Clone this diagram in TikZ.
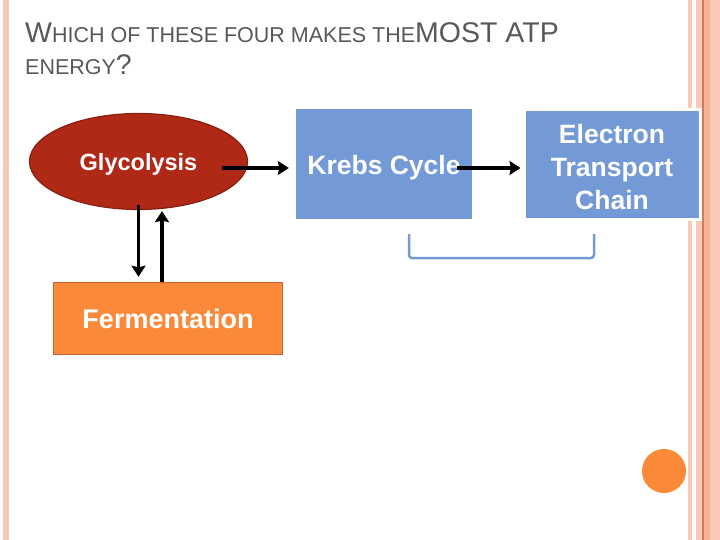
\documentclass[tikz,border=0pt]{standalone}
\usepackage{fontspec}
\setmainfont{Liberation Sans}
\usetikzlibrary{shapes.geometric, arrows.meta}

\definecolor{glycored}{RGB}{176,41,22}
\definecolor{glycoline}{RGB}{135,30,15}
\definecolor{krebsblue}{RGB}{115,153,214}
\definecolor{fermorange}{RGB}{250,137,58}
\definecolor{fermline}{RGB}{200,100,45}
\definecolor{stripe}{RGB}{249,201,184}
\definecolor{stripedark}{RGB}{246,180,150}
\definecolor{stripeline}{RGB}{205,125,85}
\definecolor{titlegray}{RGB}{88,88,88}

\begin{document}
\begin{tikzpicture}[x=1pt, y=-1pt,
      every node/.style={font=\bfseries, text=white, inner sep=0pt},
      stage/.style={rectangle, fill=krebsblue, minimum width=176pt, minimum height=110pt, align=center,
                    font=\fontsize{26.5}{33}\selectfont\bfseries},
      process/.style={ellipse, fill=glycored, draw=glycoline, line width=1.2pt, minimum width=218pt, minimum height=96pt,
                    text depth=0pt, font=\fontsize{23.5}{28}\selectfont\bfseries},
      side/.style={rectangle, fill=fermorange, draw=fermline, line width=1.5pt, minimum width=229pt, minimum height=72pt,
                    font=\fontsize{27}{32}\selectfont\bfseries},
      flow/.style={line width=3.5pt, -{Stealth[length=11pt, width=14pt, inset=1.5pt]}},
      bracket/.style={draw=krebsblue, line width=2.5pt, rounded corners=3pt},
      title/.style={text=titlegray, anchor=base west, font=\fontsize{21.5}{25}\selectfont}
  ]
    \useasboundingbox (0,0) rectangle (720,540);
    % page decoration
    \fill[stripe] (3,0) rectangle (9,540);
    \fill[stripe] (688,0) rectangle (692,540);
    \fill[stripe] (696,0) rectangle (720,540);
    \fill[stripedark] (702,0) rectangle (710,540);
    \fill[stripeline] (702,0) rectangle (703.5,540);
    \fill[fermorange] (664,471) circle (22);

    \node[title] (question) at (25,43) {{\fontsize{28.5}{30}\selectfont W}HICH OF THESE FOUR MAKES THE{\fontsize{28.5}{30}\selectfont MOST ATP}};
    \node[title] (question2) at (25,75) {ENERGY{\fontsize{28.5}{30}\selectfont ?}};

    \node[process] (glyco) at (138.5,161.5) {Glycolysis};
    \node[stage, text depth=0pt] (krebs) at (384,164.5) {Krebs Cycle};
    \node[stage, draw=white, line width=3pt] (etc) at (612,164.5) {\rule{0pt}{24.5pt}Electron\\Transport\\Chain};
    \node[side] (ferm) at (168,318.5) {Fermentation};

    \draw[flow, shorten >=7pt] ([xshift=-26pt,yshift=-6.5pt]glyco.east) -- ([yshift=-3.5pt]krebs.west);
    \draw[flow, shorten >=2pt] ([xshift=-15pt,yshift=-3.5pt]krebs.east) -- ([yshift=-3.5pt]etc.west);
    \draw[flow, shorten >=5pt] ([yshift=5pt]glyco.south) -- (glyco.south |- ferm.north);
    \draw[flow] ([xshift=-6pt]ferm.north) -- ([xshift=23.5pt,yshift=-1pt]glyco.south);

    \draw[bracket] (409,234) -- (409,258) -- (594,258) -- (594,234);
  \end{tikzpicture}
\end{document}
